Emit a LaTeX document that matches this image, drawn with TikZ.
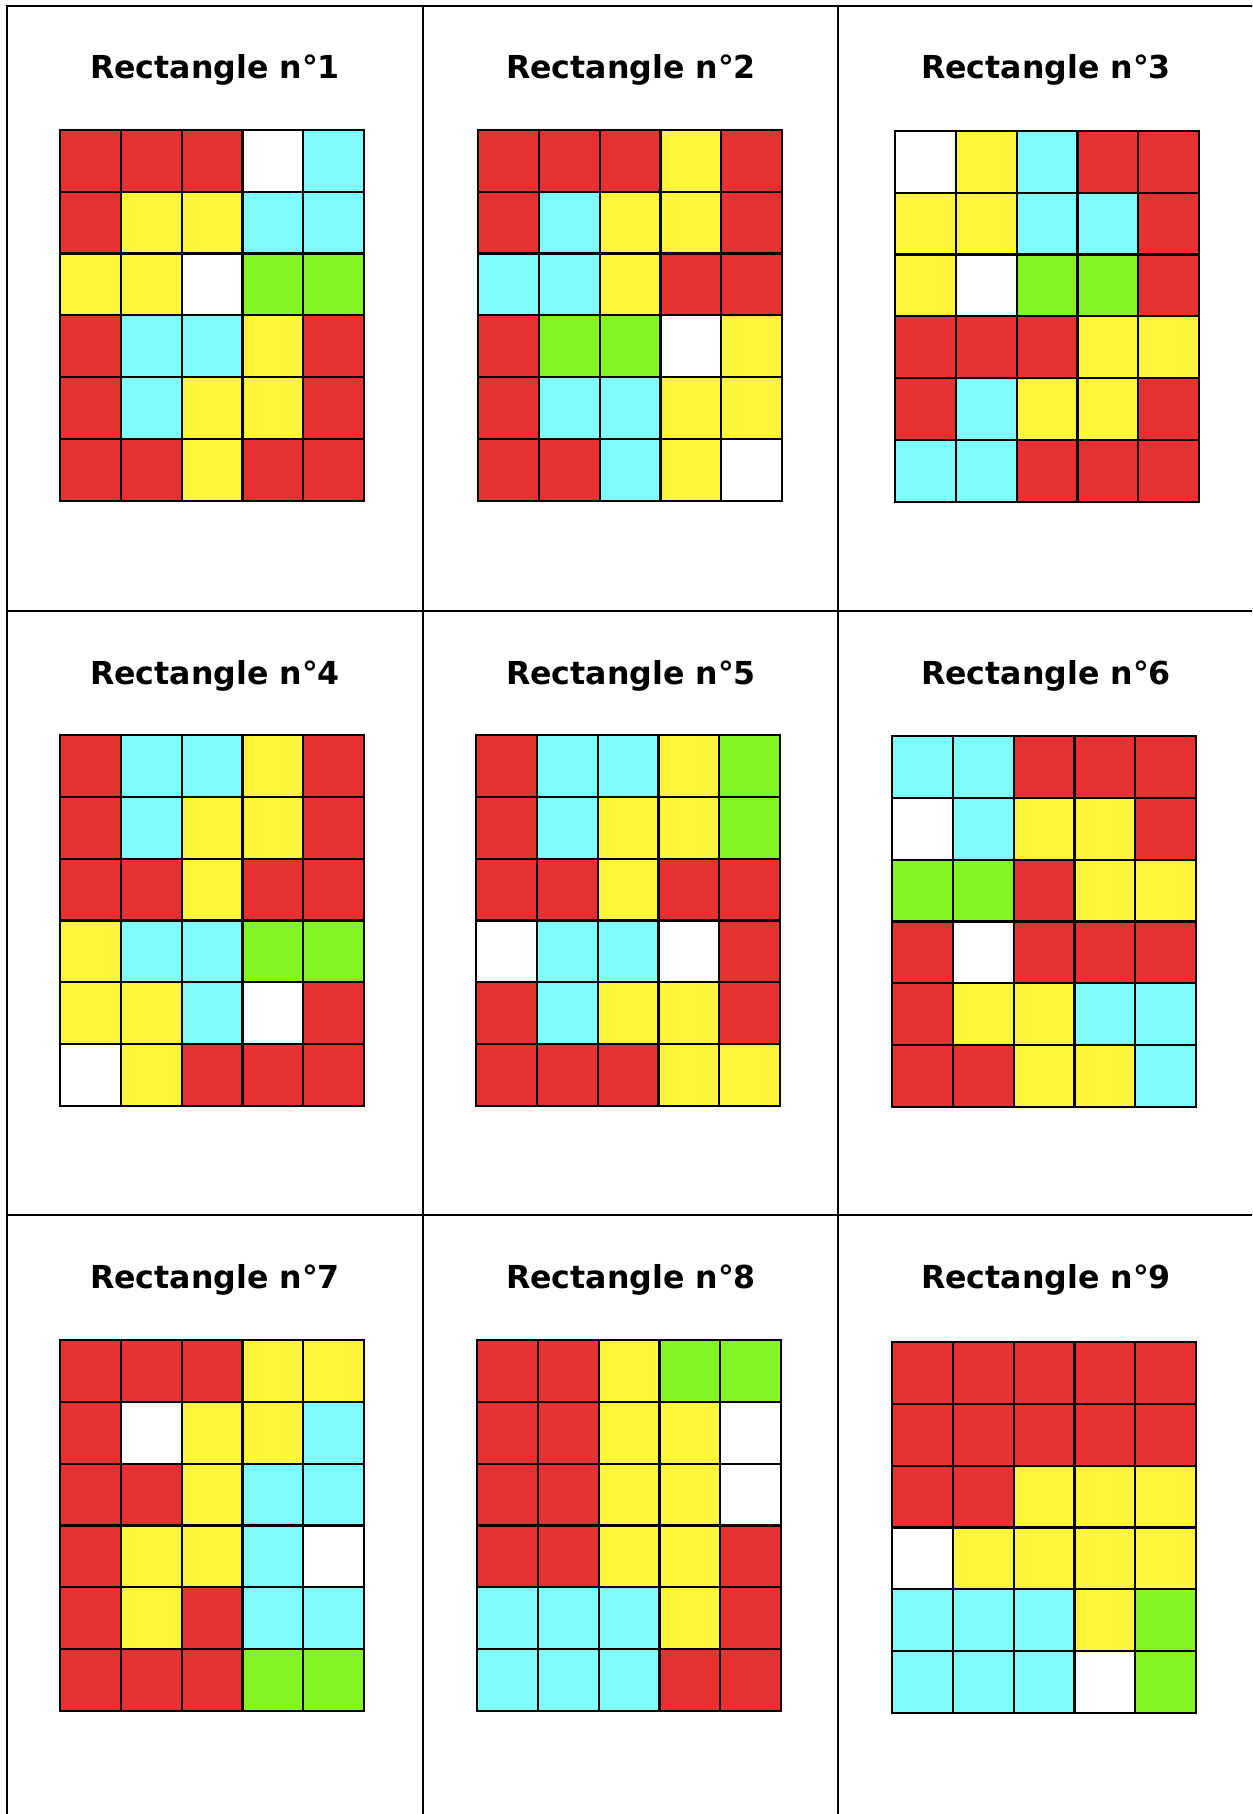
\documentclass[tikz,border=0pt]{standalone}
\usepackage{fontspec}
\setmainfont{DejaVu Sans}

% couleurs des cases
\definecolor{cR}{HTML}{E63232}
\definecolor{cY}{HTML}{FFF53C}
\definecolor{cC}{HTML}{80FCFC}
\definecolor{cG}{HTML}{84F424}
\definecolor{cW}{HTML}{FFFFFF}

\tikzset{
  cadre/.style={line width=1.3pt},
  case/.style={draw=black, line width=1.25pt},
  titre/.style={anchor=base, font=\fontsize{18}{20}\selectfont\bfseries},
}

% une grille de 5 x 6 cases : coin haut-gauche, puis les lignes
\newcommand{\grille}[3]{%
  \begin{scope}[shift={(#1,#2)}]
    \foreach \ligne [count=\j from 0] in {#3} {
      \foreach \coul [count=\i from 0] in \ligne {
        \draw[case, fill=c\coul] (\i*60.8, \j*61.8) rectangle ++(60.8, 61.8);
      }
    }
  \end{scope}
}

\begin{document}
\begin{tikzpicture}[x=0.02cm, y=-0.02cm]
            \clip (0,0) rectangle (1252,1814);
            \fill[white] (0,0) rectangle (1252,1814);

            % Le tableau (coupe a droite et en bas)
            \draw[cadre] (7,6) rectangle (1262,1830);
            \draw[cadre] (423,6) -- (423,1830);
            \draw[cadre] (838,6) -- (838,1830);
            \draw[cadre] (7,611) -- (1262,611);
            \draw[cadre] (7,1215) -- (1262,1215);

            % Titres
            \node[titre] (t1) at (215,79) {Rectangle n°1};
            \node[titre] (t2) at (631,79) {Rectangle n°2};
            \node[titre] (t3) at (1046,79) {Rectangle n°3};
            \node[titre] (t4) at (215,684) {Rectangle n°4};
            \node[titre] (t5) at (631,684) {Rectangle n°5};
            \node[titre] (t6) at (1046,684) {Rectangle n°6};
            \node[titre] (t7) at (215,1288) {Rectangle n°7};
            \node[titre] (t8) at (631,1288) {Rectangle n°8};
            \node[titre] (t9) at (1046,1288) {Rectangle n°9};

            % Premiere rangee
            \grille{60}{130}{{R,R,R,W,C},{R,Y,Y,C,C},{Y,Y,W,G,G},{R,C,C,Y,R},{R,C,Y,Y,R},{R,R,Y,R,R}}
            \grille{478}{130}{{R,R,R,Y,R},{R,C,Y,Y,R},{C,C,Y,R,R},{R,G,G,W,Y},{R,C,C,Y,Y},{R,R,C,Y,W}}
            \grille{895}{131}{{W,Y,C,R,R},{Y,Y,C,C,R},{Y,W,G,G,R},{R,R,R,Y,Y},{R,C,Y,Y,R},{C,C,R,R,R}}

            % Deuxieme rangee
            \grille{60}{735}{{R,C,C,Y,R},{R,C,Y,Y,R},{R,R,Y,R,R},{Y,C,C,G,G},{Y,Y,C,W,R},{W,Y,R,R,R}}
            \grille{476}{735}{{R,C,C,Y,G},{R,C,Y,Y,G},{R,R,Y,R,R},{W,C,C,W,R},{R,C,Y,Y,R},{R,R,R,Y,Y}}
            \grille{892}{736}{{C,C,R,R,R},{W,C,Y,Y,R},{G,G,R,Y,Y},{R,W,R,R,R},{R,Y,Y,C,C},{R,R,Y,Y,C}}

            % Troisieme rangee
            \grille{60}{1340}{{R,R,R,Y,Y},{R,W,Y,Y,C},{R,R,Y,C,C},{R,Y,Y,C,W},{R,Y,R,C,C},{R,R,R,G,G}}
            \grille{477}{1340}{{R,R,Y,G,G},{R,R,Y,Y,W},{R,R,Y,Y,W},{R,R,Y,Y,R},{C,C,C,Y,R},{C,C,C,R,R}}
            \grille{892}{1342}{{R,R,R,R,R},{R,R,R,R,R},{R,R,Y,Y,Y},{W,Y,Y,Y,Y},{C,C,C,Y,G},{C,C,C,W,G}}
\end{tikzpicture}
\end{document}
